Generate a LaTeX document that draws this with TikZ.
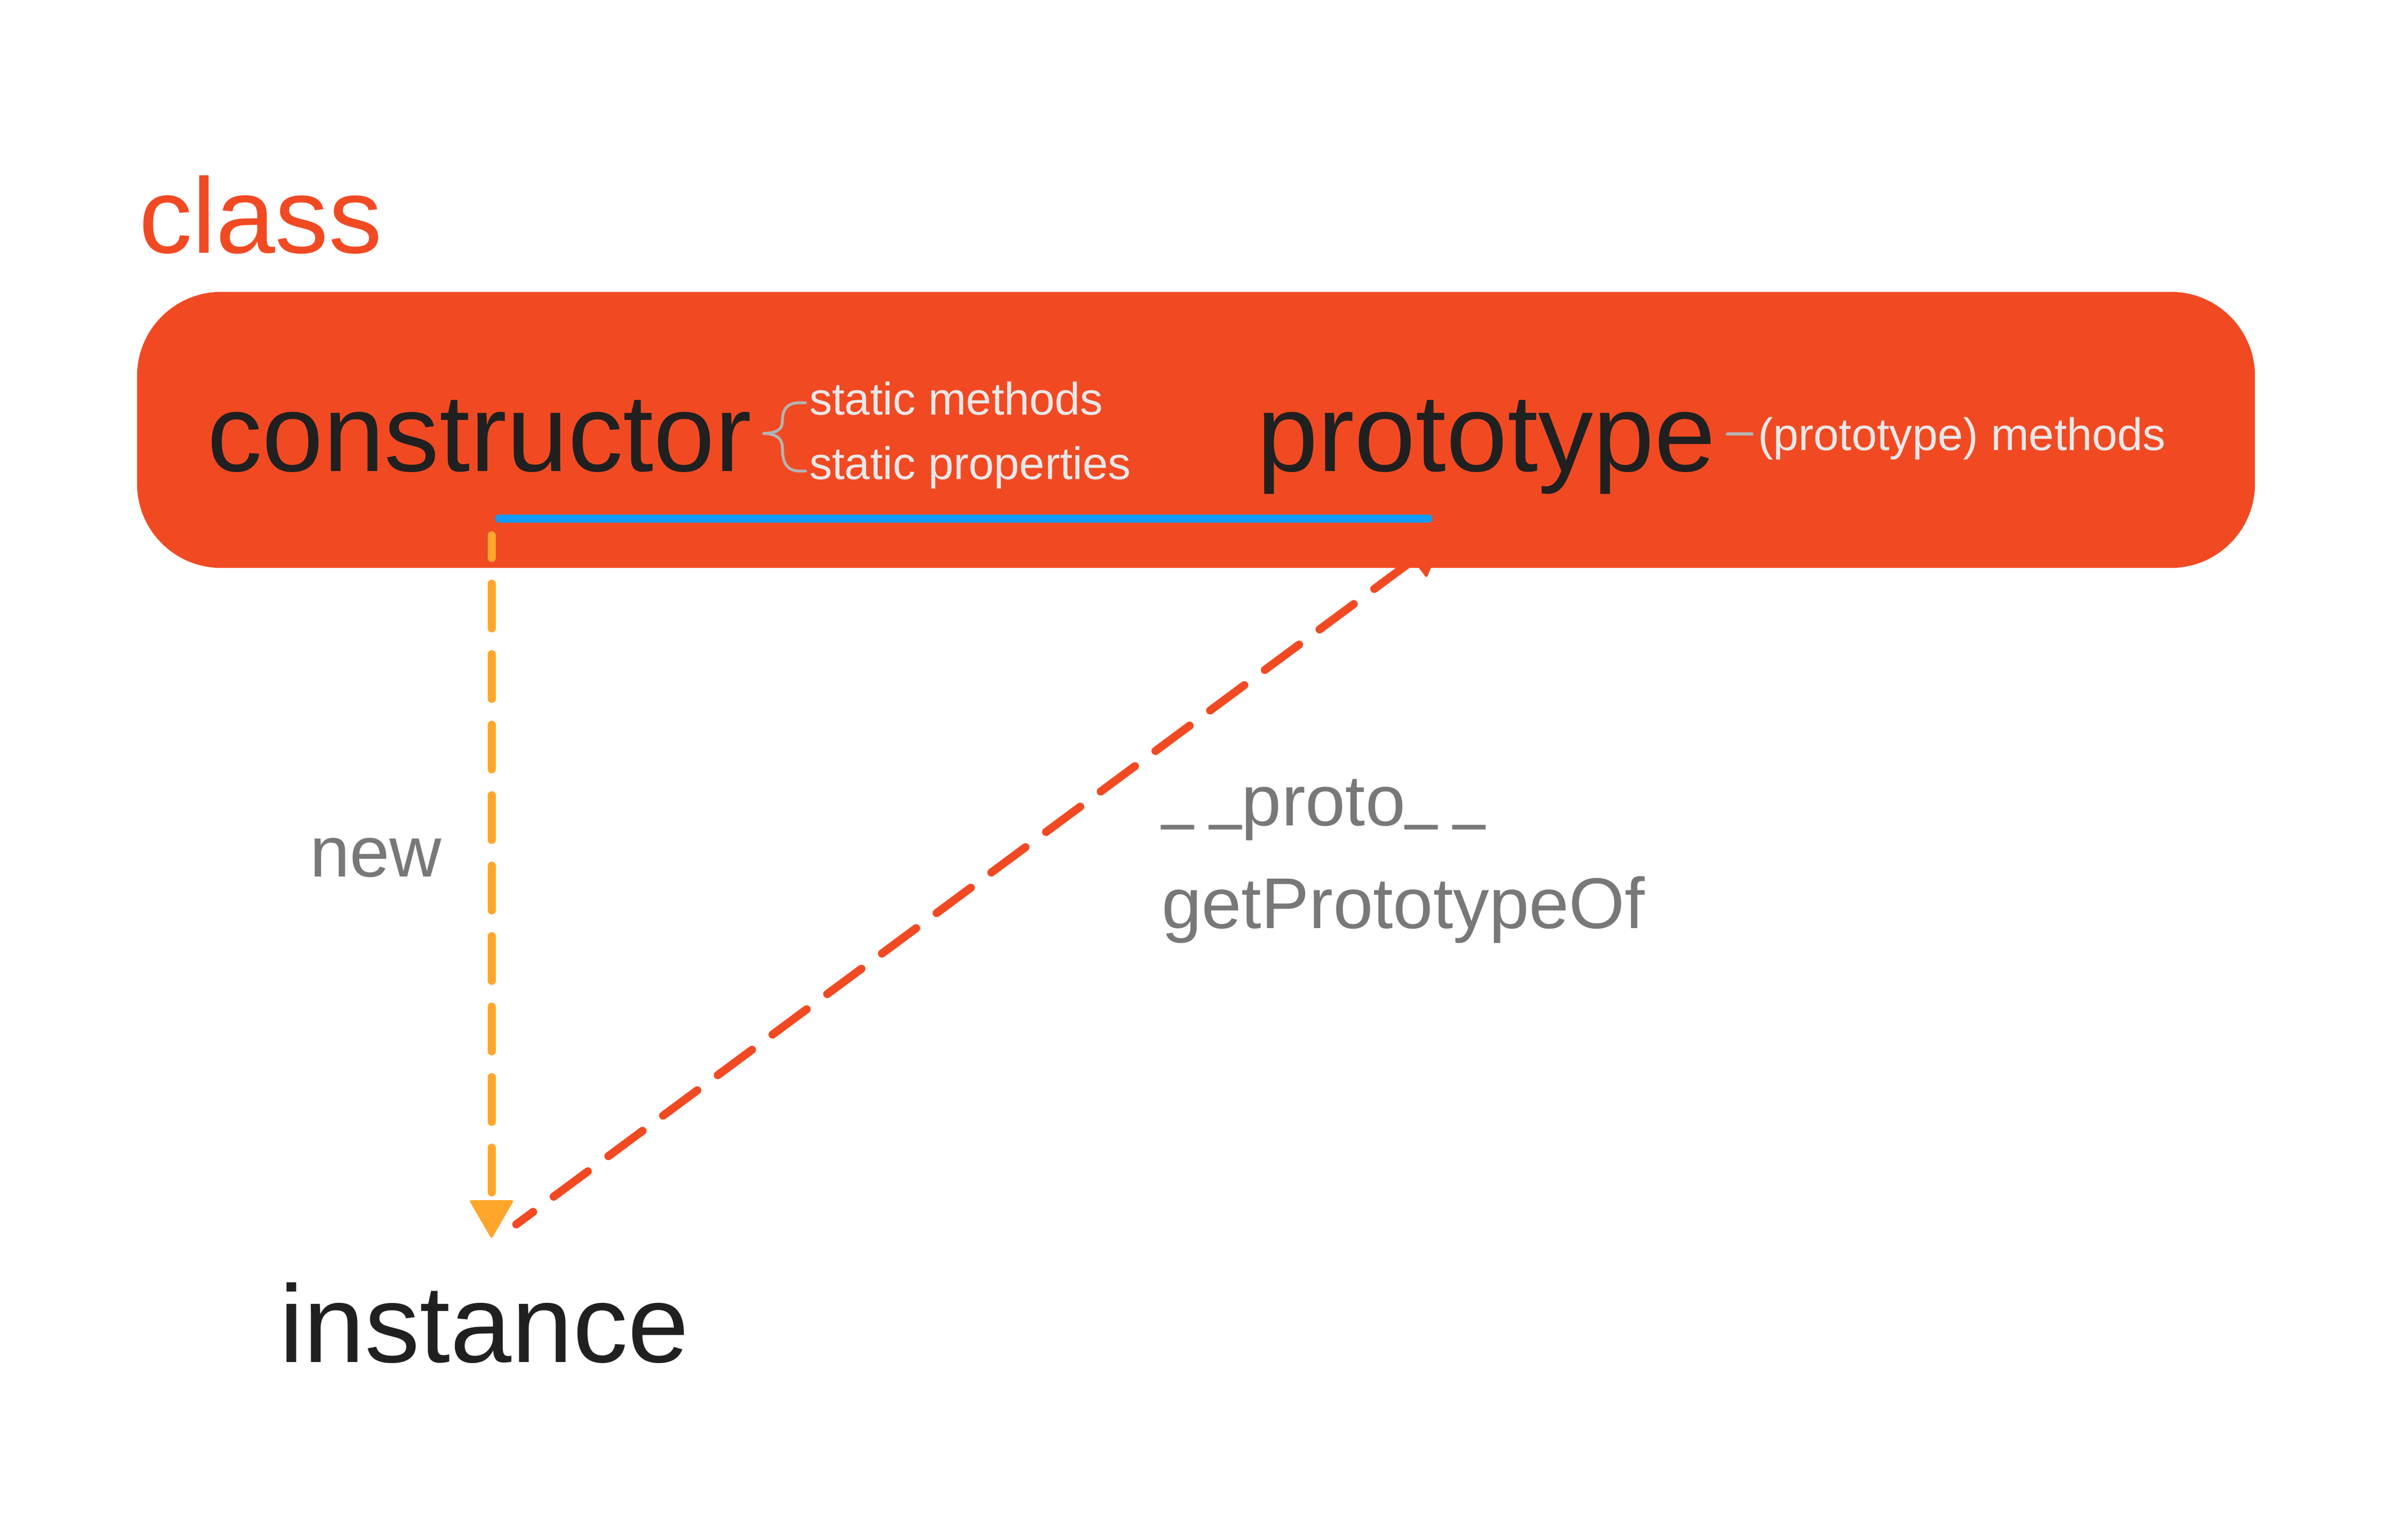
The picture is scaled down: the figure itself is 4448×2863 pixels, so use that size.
\documentclass[tikz,border=0pt]{standalone}
\usepackage{fontspec}
\setmainfont{Liberation Sans}
\usepackage{graphicx}
\usetikzlibrary{arrows.meta}
\definecolor{boxred}{HTML}{F14A23}
\definecolor{inkdark}{HTML}{202020}
\definecolor{paletext}{HTML}{E8E8E8}
\definecolor{bracegrey}{HTML}{B4B4B4}
\definecolor{labelgrey}{HTML}{787878}
\definecolor{ublue}{HTML}{119BFF}
\definecolor{neworange}{HTML}{FFA62B}
\newcommand\usc{\raisebox{5.3pt}{\scalebox{0.8}[1]{\_}}}
\begin{document}
\begin{tikzpicture}[x=0.01cm,y=-0.01cm,
  txt/.style={anchor=base west, inner sep=0pt, outer sep=0pt},
  bigtxt/.style={txt, text=inkdark, font=\fontsize{58.2pt}{60pt}\selectfont},
  greytxt/.style={txt, text=labelgrey, font=\fontsize{38pt}{40pt}\selectfont},
  smalltxt/.style={txt, text=paletext, font=\fontsize{24.1pt}{26pt}\selectfont},
  arrowtip/.style={-{Triangle[length=20.5pt,width=23.5pt,round,line width=1.2pt]}},
  newline/.style={draw=neworange, line width=4.27pt, line cap=round,
     dash pattern=on 23.62pt off 13.66pt, dash phase=11.67pt, arrowtip},
  protoline/.style={draw=boxred, line width=4.27pt, line cap=round,
     dash pattern=on 22.48pt off 13.52pt, dash phase=11.38pt, arrowtip},
  bluebar/.style={draw=ublue, line width=4.27pt, line cap=round},
  bracestroke/.style={draw=bracegrey, line width=1.5pt, line cap=round, line join=round}
]
\useasboundingbox (0,0) rectangle (4448,2863);
\fill[white] (0,0) rectangle (4448,2863);

% class box
\node[fill=boxred, rounded corners=44.5pt, minimum width=1119.9pt,
      minimum height=146pt, inner sep=0pt, outer sep=0pt] (classbox) at (2224,799.5) {};

% title
\node[txt, text=boxred, font=\fontsize{56.5pt}{60pt}\selectfont] (classlabel) at (258,470) {class};

% main words
\node[bigtxt] (ctor) at (385,876) {constructor};
\node[bigtxt] (proto) at (2337,876) {prototype};
\node[bigtxt] (instance) at (519,2533) {instance};

% static texts
\node[smalltxt] (smeth) at (1505,771) {static methods};
\node[smalltxt] (sprop) at (1505,891) {static properties};
\node[smalltxt] (pmeth) at (3269,837) {(prototype) methods};

% brace
\draw[bracestroke] (1498,749) -- (1487,749)
  .. controls (1463,749) and (1455,762) .. (1455,782)
  .. controls (1455,797) and (1448,805) .. (1420,806)
  .. controls (1448,807) and (1455,818) .. (1455,835)
  .. controls (1455,860) and (1463,876) .. (1487,876) -- (1498,876);
% small dash before (prototype) methods
\draw[draw=bracegrey, line width=1.56pt, line cap=round] (3212,807) -- (3258,807);

% grey labels
\node[greytxt] (newlabel) at (576,1630) {new};
\node[greytxt] (protolabel) at (2160,1535) {\usc\kern 8.5pt\usc proto\usc\kern 8.5pt\usc};
\node[greytxt] (gpolabel) at (2160,1726) {getPrototypeOf};

% connector anchors
\coordinate (ctorfoot) at (914,995.5);
\coordinate (newtip) at (914,2302);
\coordinate (insttop) at (960,2277);
\coordinate (prototip) at (2684,1000);
\coordinate (barstart) at (928,964);
\coordinate (barend) at (2656,964);

% connectors
\draw[protoline] (insttop) -- (prototip);
\draw[bluebar] (barstart) -- (barend);
\draw[newline] (ctorfoot) -- (newtip);
\end{tikzpicture}
\end{document}
